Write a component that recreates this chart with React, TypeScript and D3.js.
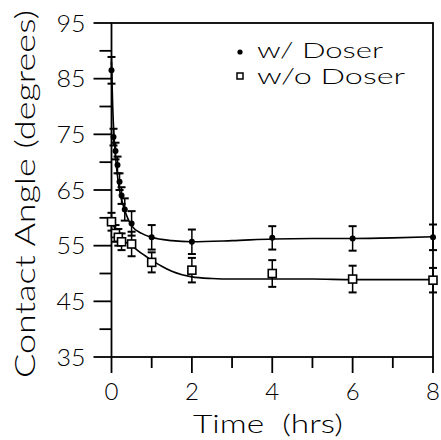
import React from "react";
import * as d3 from "d3";

const wTimes = [0, 0.05, 0.1, 0.15, 0.2, 0.25, 0.33, 0.5, 1, 2, 4, 6, 8];
const wValues = [86.5, 74.5, 72, 69.5, 66.5, 64, 61.5, 59, 56.5, 55.7, 56.4, 56.3, 56.5];
const wErrors = [2.4, 1.5, 1.5, 1.5, 1.5, 1.5, 2, 2.2, 2.2, 2.2, 2.1, 2.2, 2.3];

const woTimes = [0, 0.1, 0.17, 0.25, 0.5, 1, 2, 4, 6, 8];
const woValues = [59.3, 57.2, 56.5, 55.7, 55.3, 52, 50.6, 50, 49, 48.8];
const woErrors = [1.6, 1.5, 1.5, 1.5, 2.2, 1.8, 2.2, 2.4, 2.4, 2.2];

const wFitTimes = [0, 0.03, 0.06, 0.1, 0.15, 0.2, 0.3, 0.4, 0.5, 0.75, 1, 1.5, 2, 3, 4, 5, 6, 7, 8];
const wFitValues = [88, 80, 75, 71, 67.5, 65, 62, 60, 58.6, 57.2, 56.5, 55.9, 55.7, 55.9, 56.2, 56.3, 56.3, 56.4, 56.6];
const woFitTimes = [0, 0.1, 0.25, 0.5, 0.75, 1, 1.25, 1.5, 2, 2.5, 3, 4, 5, 6, 7, 8];
const woFitValues = [59.6, 57.8, 56.2, 55.0, 53.6, 52.4, 51.3, 50.4, 49.4, 49.1, 49.0, 49.0, 49.0, 48.9, 48.9, 48.9];

const xMajorTicks = [0, 2, 4, 6, 8];
const xMinorTicks = [1, 3, 5, 7];
const yMajorTicks = [35, 45, 55, 65, 75, 85, 95];
const yMinorTicks = [40, 50, 60, 70, 80, 90];

const legendLabels = ["w/ Doser", "w/o Doser"];

const FONT = "Lato, 'DejaVu Sans', sans-serif";
const FW = 300;

export default function App() {
  const W = 441, H = 440;
  const left = 111.5, right = 433, top = 23, bottom = 357;
  const x = d3.scaleLinear().domain([0, 8]).range([left, right]);
  const y = d3.scaleLinear().domain([35, 95]).range([bottom, top]);

  const line = d3
    .line<[number, number]>()
    .x((d) => x(d[0]))
    .y((d) => y(d[1]))
    .curve(d3.curveMonotoneX);

  const wFit = wFitTimes.map((t, i) => [t, wFitValues[i]] as [number, number]);
  const woFit = woFitTimes.map((t, i) => [t, woFitValues[i]] as [number, number]);

  const stroke = "#000";
  const cap = 4;

  const errBars = (times: number[], vals: number[], errs: number[], key: string) =>
    times.map((t, i) => {
      const cx = x(t);
      const y1 = y(vals[i] + errs[i]);
      const y2 = y(vals[i] - errs[i]);
      return (
        <g key={key + i} stroke={stroke} strokeWidth={1.5}>
          <line x1={cx} x2={cx} y1={y1} y2={y2} />
          <line x1={cx - cap} x2={cx + cap} y1={y1} y2={y1} strokeWidth={2} />
          <line x1={cx - cap} x2={cx + cap} y1={y2} y2={y2} strokeWidth={2} />
        </g>
      );
    });

  return (
    <svg width={W} height={H} style={{ display: "block", position: "absolute", left: 0, top: 0 }}>
      <rect x={0} y={0} width={W} height={H} fill="#fff" />
      <rect x={left} y={top} width={right - left} height={bottom - top} fill="none" stroke={stroke} strokeWidth={1.8} />
      {yMajorTicks.map((v) => (
        <line key={"ym" + v} x1={left - 18} x2={left} y1={y(v)} y2={y(v)} stroke={stroke} strokeWidth={1.8} />
      ))}
      {yMinorTicks.map((v) => (
        <line key={"yn" + v} x1={left - 12} x2={left} y1={y(v)} y2={y(v)} stroke={stroke} strokeWidth={1.8} />
      ))}
      {yMajorTicks.map((v) => (
        <text key={"yl" + v} x={left - 26} y={y(v)} dy="0.36em" textAnchor="end" fontFamily={FONT} fontWeight={FW} fontSize={24} textLength={29} lengthAdjust="spacingAndGlyphs">
          {v}
        </text>
      ))}
      {xMajorTicks.map((v) => (
        <line key={"xm" + v} x1={x(v)} x2={x(v)} y1={bottom} y2={bottom + 16} stroke={stroke} strokeWidth={1.8} />
      ))}
      {xMinorTicks.map((v) => (
        <line key={"xn" + v} x1={x(v)} x2={x(v)} y1={bottom} y2={bottom + 11} stroke={stroke} strokeWidth={1.8} />
      ))}
      {xMajorTicks.map((v) => (
        <text key={"xl" + v} x={x(v)} y={400} textAnchor="middle" fontFamily={FONT} fontWeight={FW} fontSize={24}>
          {v}
        </text>
      ))}
      <text x={268} y={433} textAnchor="middle" fontFamily={FONT} fontWeight={FW} fontSize={25} textLength={150} lengthAdjust="spacingAndGlyphs" style={{ whiteSpace: "pre" }}>
        {"Time  (hrs)"}
      </text>
      <text
        transform={`translate(35,194) rotate(-90)`}
        textAnchor="middle"
        fontFamily={FONT}
        fontWeight={FW}
        fontSize={28}
        textLength={368}
        lengthAdjust="spacingAndGlyphs"
      >
        Contact Angle (degrees)
      </text>
      <path d={line(wFit) || ""} fill="none" stroke={stroke} strokeWidth={1.6} />
      <path d={line(woFit) || ""} fill="none" stroke={stroke} strokeWidth={1.6} />
      {errBars(wTimes, wValues, wErrors, "we")}
      {errBars(woTimes, woValues, woErrors, "woe")}
      {woTimes.map((t, i) => (
        <rect key={"wos" + i} x={x(t) - 4} y={y(woValues[i]) - 4} width={8} height={8} fill="#fff" stroke={stroke} strokeWidth={1.6} />
      ))}
      {wTimes.map((t, i) => (
        <circle key={"wc" + i} cx={x(t)} cy={y(wValues[i])} r={3} fill={stroke} />
      ))}
      <circle cx={240} cy={52} r={2.6} fill={stroke} />
      <text x={257} y={58} fontFamily={FONT} fontWeight={FW} fontSize={22} textLength={126} lengthAdjust="spacingAndGlyphs">
        {legendLabels[0]}
      </text>
      <rect x={237} y={73} width={6} height={6} fill="#fff" stroke={stroke} strokeWidth={1.5} />
      <text x={257} y={84} fontFamily={FONT} fontWeight={FW} fontSize={22} textLength={148} lengthAdjust="spacingAndGlyphs">
        {legendLabels[1]}
      </text>
    </svg>
  );
}
